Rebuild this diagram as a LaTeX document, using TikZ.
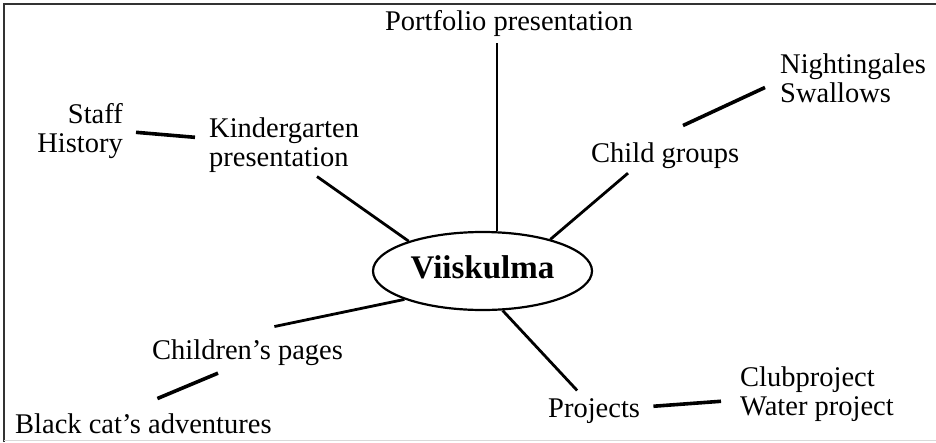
\documentclass[tikz,border=0pt]{standalone}
\usepackage{fontspec}
\setmainfont{Liberation Serif}
\usetikzlibrary{shapes.geometric}

\begin{document}
\begin{tikzpicture}[x=1pt,y=-1pt,
            lbl/.style={inner sep=0pt,font=\fontsize{28.5}{29}\selectfont},
            link/.style={line width=2.8pt},
            sublink/.style={line width=3.6pt}]
            \useasboundingbox (0,0) rectangle (936,442);
            \draw[line width=2pt,black!80] (4,442) -- (4,4) -- (936,4);
            \draw[line width=1pt,black!15] (4,440) -- (936,440);
            \node[draw,ellipse,line width=2.2pt,minimum width=219pt,minimum height=78pt,inner sep=0pt,
                  text depth=8pt,font=\fontsize{33}{34}\selectfont\bfseries] (viis) at (482.5,271) {Viiskulma};
            \node[lbl,anchor=base] (port) at (509,30) {Portfolio presentation};
            \node[lbl,anchor=north east,align=right] (staff) at (123,103.5) {Staff\\History};
            \node[lbl,anchor=north west,align=left] (kinder) at (209,117.5) {Kindergarten\\presentation};
            \node[lbl,anchor=north west,align=left] (night) at (780,53.5) {Nightingales\\Swallows};
            \node[lbl,anchor=base west] (child) at (591,162) {Child groups};
            \node[lbl,anchor=base west] (pages) at (152,359) {Children’s pages};
            \node[lbl,anchor=base west] (cat) at (15,433) {Black cat’s adventures};
            \node[lbl,anchor=base west] (proj) at (548,417) {Projects};
            \node[lbl,anchor=north west,align=left] (club) at (740,366.5) {Clubproject\\Water project};
            \draw[link,shorten >=6.8pt] (viis.70) -- (viis.70 |- port.south);
            \draw[link] ([shift={(108,3.8)}]kinder.south west) -- (viis.158);
            \draw[sublink] ([shift={(13,1)}]staff.east) -- ([shift={(-14,-7.8)}]kinder.west);
            \draw[link] ([shift={(37,4.8)}]child.south west) -- (viis.25);
            \draw[sublink] ([shift={(92,-16.5)}]child.north west) -- ([shift={(-15,9.25)}]night.west);
            \draw[link] ([shift={(26.8,-12.5)}]pages.north) -- (viis.200);
            \draw[sublink] ([shift={(14,-14.5)}]cat.north) -- ([shift={(66,7.8)}]pages.south west);
            \draw[link] (viis.297) -- ([shift={(-17,-7.5)}]proj.north);
            \draw[sublink] ([shift={(13.2,-4.35)}]proj.east) -- ([shift={(-19,7.15)}]club.west);
        \end{tikzpicture}
\end{document}
